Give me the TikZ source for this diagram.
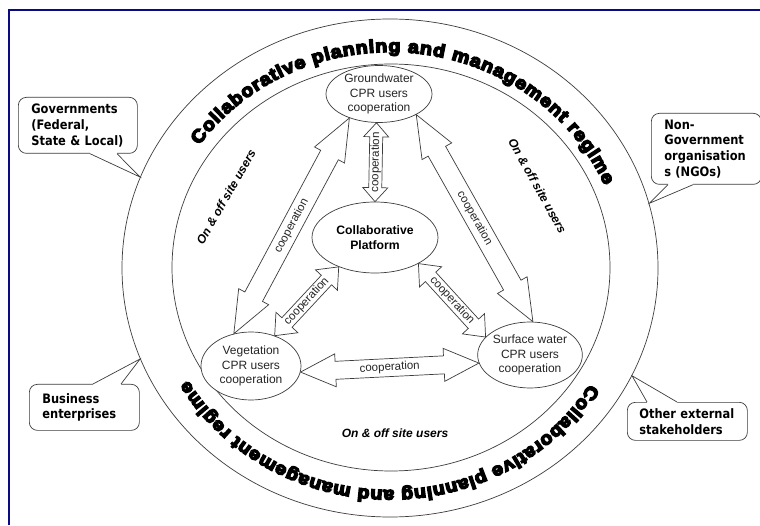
\documentclass[tikz,border=0pt]{standalone}
\usepackage{fontspec}
\setmainfont{Liberation Sans}
\newfontfamily\boxfont[FakeStretch=0.88]{DejaVu Sans}
\newfontfamily\titlefont[FakeBold=8,FakeStretch=1.1]{Liberation Sans Bold}
\usetikzlibrary{shapes.geometric,calc,decorations.text}
\definecolor{framenavy}{RGB}{10,10,130}
\definecolor{linegray}{RGB}{60,60,60}
\tikzset{
  ring/.style={ellipse, draw=linegray, line width=0.7pt, inner sep=0pt},
  cpr/.style={ellipse, draw=linegray, fill=white, line width=0.7pt, inner sep=0pt, align=center,
    font=\fontsize{12}{14.5}\selectfont, text=black!85},
  platform/.style={cpr, font=\bfseries\fontsize{12.2}{15}\selectfont, text=black},
  arrowbox/.style={draw=linegray, fill=white, line width=0.7pt, line join=miter},
  arrowlabel/.style={font=\fontsize{11.5}{12}\selectfont, text=black!85, inner sep=0pt},
  callout/.style={draw=linegray, fill=white, rounded corners=8pt, line width=0.7pt, align=left,
    font=\boxfont\bfseries\fontsize{13}{15.7}\selectfont, inner xsep=13pt, inner ysep=3pt, anchor=north west},
  ptr/.style={draw=linegray, line width=0.7pt, line join=miter},
  usersnote/.style={font=\bfseries\itshape\fontsize{12}{14}\selectfont, inner sep=0pt},
}
\newcommand{\blockarrow}[6]{%
  \filldraw[arrowbox] (#1)
    -- ($(#1)!#5!(#2)!#4!90:(#2)$)
    -- ($(#1)!#5!(#2)!#3!90:(#2)$)
    -- ($(#2)!#5!(#1)!#3!-90:(#1)$)
    -- ($(#2)!#5!(#1)!#4!-90:(#1)$)
    -- (#2)
    -- ($(#2)!#5!(#1)!#4!90:(#1)$)
    -- ($(#2)!#5!(#1)!#3!90:(#1)$)
    -- ($(#1)!#5!(#2)!#3!-90:(#2)$)
    -- ($(#1)!#5!(#2)!#4!-90:(#2)$)
    -- cycle;
  \path (#1) -- node[arrowlabel, sloped] {#6} (#2);
}
\begin{document}
\begin{tikzpicture}[x=1pt,y=1pt]
\useasboundingbox (0,0) rectangle (760,525);
\fill[white] (0,0) rectangle (760,525);
% frame
\draw[framenavy, line width=2.5pt] (9,0) -- (9,515) -- (760,515);
% rings
\node[ring, minimum width=536pt, minimum height=498pt] (outer) at (390,257) {};
\node[ring, minimum width=438pt, minimum height=407pt] (inner) at (391,257.5) {};
% title along the ring
\coordinate (tc) at (390,254);
\path[decorate, decoration={text along path, text align={fit to path},
  text={|\titlefont\fontsize{18}{20}\selectfont|Collaborative planning and management regime}}]
  ([shift={(145:233 and 219)}]tc) arc[start angle=145, end angle=23, x radius=233, y radius=219];
\path[decorate, decoration={text along path, text align={fit to path},
  text={|\titlefont\fontsize{18}{20}\selectfont|Collaborative planning and management regime}}]
  ([shift={(-31:233 and 219)}]tc) arc[start angle=-31, end angle=-150, x radius=233, y radius=219];
% callouts
\node[callout, text width=93pt, minimum height=56pt] (gov) at (18,428) {Governments\\(Federal,\\State \& Local)};
\node[callout, text width=84pt, minimum height=71pt] (ngo) at (651,412) {Non-\\Government\\organisation\\s (NGOs)};
\node[callout, text width=84pt, minimum height=46pt] (bus) at (29,141) {Business\\enterprises};
\node[callout, text width=96pt, inner xsep=12pt, minimum height=38pt] (oth) at (627,123) {Other external\\stakeholders};
% pointers
\fill[white] ($(gov.south west)+(72,1.5)$) -- ($(gov.south west)+(72,0)$) -- (outer.160) -- ($(gov.south west)+(99,0)$) -- ($(gov.south west)+(99,1.5)$) -- cycle;
\draw[ptr] ($(gov.south west)+(72,0)$) -- (outer.160) -- ($(gov.south west)+(99,0)$);
\fill[white] ($(ngo.south west)+(17,1.5)$) -- ($(ngo.south west)+(17,0)$) -- (outer.14) -- ($(ngo.south west)+(42,0)$) -- ($(ngo.south west)+(42,1.5)$) -- cycle;
\draw[ptr] ($(ngo.south west)+(17,0)$) -- (outer.14) -- ($(ngo.south west)+(42,0)$);
\fill[white] ($(bus.north west)+(64,-1.5)$) -- ($(bus.north west)+(64,0)$) -- (outer.200) -- ($(bus.north west)+(92,0)$) -- ($(bus.north west)+(92,-1.5)$) -- cycle;
\draw[ptr] ($(bus.north west)+(64,0)$) -- (outer.200) -- ($(bus.north west)+(92,0)$);
\fill[white] ($(oth.north west)+(20,-1.5)$) -- ($(oth.north west)+(20,0)$) -- (outer.336) -- ($(oth.north west)+(50,0)$) -- ($(oth.north west)+(50,-1.5)$) -- cycle;
\draw[ptr] ($(oth.north west)+(20,0)$) -- (outer.336) -- ($(oth.north west)+(50,0)$);
% CPR nodes
\node[cpr, minimum width=106pt, minimum height=57pt] (gw) at (379,431) {Groundwater\\CPR users\\cooperation};
\node[platform, minimum width=126pt, minimum height=71pt] (cp) at (375,287.5) {Collaborative\\Platform};
\node[cpr, minimum width=100pt, minimum height=68pt] (veg) at (251,159) {Vegetation\\CPR users\\cooperation};
\node[cpr, minimum width=104pt, minimum height=66pt] (sw) at (530,170) {Surface water\\CPR users\\cooperation};
% block arrows
\blockarrow{cp.north}{gw.265}{6.5pt}{12.5pt}{14pt}{cooperation}
\blockarrow{gw.219}{veg.118}{10pt}{17pt}{42pt}{cooperation}
\blockarrow{gw.331}{sw.85}{10pt}{17pt}{42pt}{cooperation}
\blockarrow{cp.219}{veg.52}{7pt}{15pt}{18pt}{cooperation}
\blockarrow{cp.329}{sw.158}{7pt}{15pt}{18pt}{cooperation}
\blockarrow{veg.353}{sw.189}{9pt}{16.5pt}{35pt}{cooperation}
% users notes
\node[usersnote, rotate=60] (ul) at (226,328) {On \& off site users};
\node[usersnote, rotate=-61] (ur) at (537.5,339) {On \& off site users};
\node[usersnote] (ub) at (395,92) {On \& off site users};
\end{tikzpicture}
\end{document}
